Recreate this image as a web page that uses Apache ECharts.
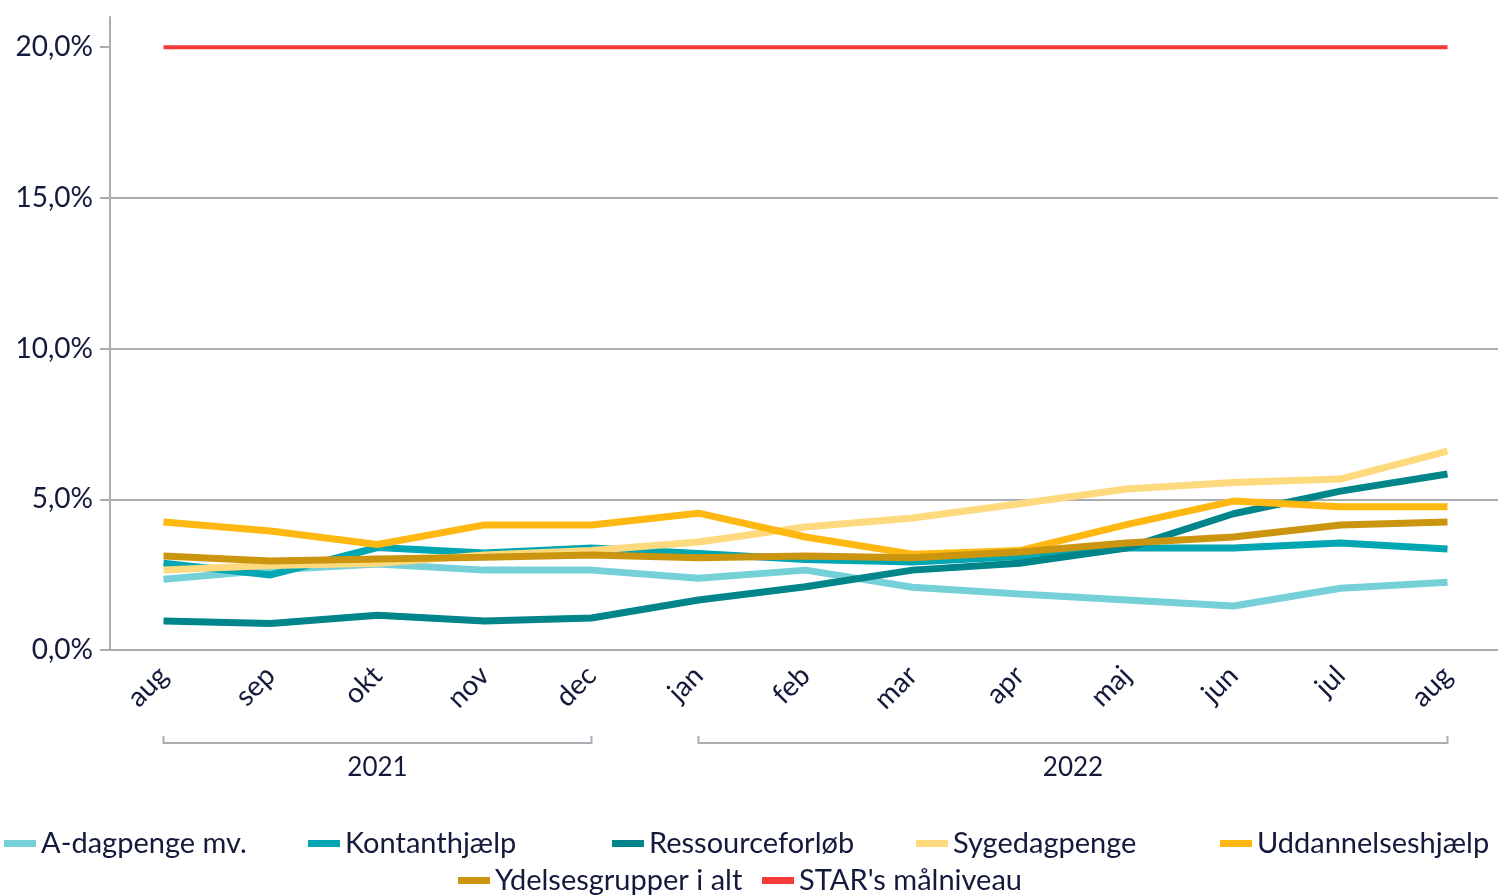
<!DOCTYPE html>
<html>
<head>
<meta charset="utf-8">
<title>Ydelsesgrupper</title>
<script src="https://cdn.jsdelivr.net/npm/echarts@6/dist/echarts.min.js"></script>
<style>
  html, body { margin: 0; padding: 0; background: #fff; }
  #chart { width: 1498px; height: 896px; }
</style>
</head>
<body>
<div id="chart"></div>
<script>
// månedsakse aug 2021 - aug 2022
var months = ["aug", "sep", "okt", "nov", "dec", "jan", "feb", "mar", "apr", "maj", "jun", "jul", "aug"];

var aDagpenge = [2.35, 2.65, 2.85, 2.65, 2.65, 2.38, 2.65, 2.08, 1.86, 1.66, 1.46, 2.05, 2.25];
var kontanthjaelp = [2.88, 2.49, 3.4, 3.22, 3.38, 3.2, 3.0, 2.92, 3.1, 3.38, 3.38, 3.55, 3.35];
var ressourceforloeb = [0.96, 0.88, 1.15, 0.96, 1.06, 1.66, 2.1, 2.65, 2.88, 3.38, 4.52, 5.27, 5.84];
var sygedagpenge = [2.65, 2.8, 2.88, 3.15, 3.3, 3.58, 4.08, 4.38, 4.85, 5.34, 5.56, 5.67, 6.6];
var uddannelseshjaelp = [4.25, 3.95, 3.5, 4.15, 4.15, 4.54, 3.75, 3.18, 3.3, 4.16, 4.94, 4.75, 4.75];
var ydelsesgrupper = [3.12, 2.95, 3.02, 3.08, 3.15, 3.06, 3.12, 3.06, 3.25, 3.55, 3.75, 4.15, 4.25];
var maalniveau = [20, 20, 20, 20, 20, 20, 20, 20, 20, 20, 20, 20, 20];

// årstal under akseetiketterne (indeks i months)
var yearLabels = ["2021", "2022"];
var yearFrom = [0, 5];
var yearTo = [4, 12];

var yTicks = [0, 5, 10, 15, 20];

var seriesNames = ["A-dagpenge mv.", "Kontanthjælp", "Ressourceforløb", "Sygedagpenge",
  "Uddannelseshjælp", "Ydelsesgrupper i alt", "STAR's målniveau"];

var navy = "#141a3b";
var grey = "#aaaeb4";

var chart = echarts.init(document.getElementById("chart"));

function lineSeries(name, data, color, width) {
  return {
    name: name,
    type: "line",
    data: data,
    symbol: "none",
    color: color,
    lineStyle: { color: color, width: width },
    emphasis: { disabled: true }
  };
}

// en legende pr. post, så alle poster får samme bredde (304px)
var legends = seriesNames.map(function (name, i) {
  var row = i < 5 ? 0 : 1;
  var col = i < 5 ? i : i - 5;
  return {
    data: [name],
    left: (row === 0 ? 4 : 458) + col * 304,
    top: row === 0 ? 829 : 866,
    icon: "rect",
    itemWidth: 32,
    itemHeight: 7,
    padding: 0,
    selectedMode: false,
    textStyle: { color: navy, fontFamily: "Lato", fontSize: 29 }
  };
});

var option = {
  animation: false,
  textStyle: { fontFamily: "Lato" },
  grid: {
    left: 110,
    right: -3,
    top: 17,
    bottom: 246,
    outerBoundsMode: "none"
  },
  legend: legends,
  xAxis: {
    type: "category",
    data: months,
    boundaryGap: true,
    axisLine: { lineStyle: { color: grey, width: 2 } },
    axisTick: { alignWithLabel: true, length: 10, lineStyle: { color: grey, width: 2 } },
    axisLabel: {
      rotate: 45,
      interval: 0,
      margin: 21,
      color: navy,
      fontSize: 28,
      fontFamily: "Lato"
    }
  },
  yAxis: {
    type: "value",
    min: 0,
    max: 21,
    interval: 5,
    axisLine: { show: true, lineStyle: { color: grey, width: 2 } },
    axisTick: { show: true, length: 10, customValues: yTicks, lineStyle: { color: grey, width: 2 } },
    axisLabel: {
      customValues: yTicks,
      color: navy,
      fontSize: 28,
      fontFamily: "Lato",
      margin: 17,
      formatter: function (v) {
        return v.toFixed(1).replace(".", ",") + "%";
      }
    },
    splitLine: { show: true, showMaxLine: false, lineStyle: { color: grey, width: 2 } }
  },
  series: [
    lineSeries(seriesNames[0], aDagpenge, "#76d0d7", 7),
    lineSeries(seriesNames[1], kontanthjaelp, "#00a6b1", 7),
    lineSeries(seriesNames[2], ressourceforloeb, "#00858b", 7),
    lineSeries(seriesNames[3], sygedagpenge, "#ffd97e", 7),
    lineSeries(seriesNames[4], uddannelseshjaelp, "#ffb812", 7),
    lineSeries(seriesNames[5], ydelsesgrupper, "#cc950f", 7),
    lineSeries(seriesNames[6], maalniveau, "#f63b3b", 4)
  ]
};

chart.setOption(option);

// klammer med årstal under månederne
function drawYears() {
  var els = [];
  var lineY = 743;
  for (var i = 0; i < yearLabels.length; i++) {
    var x0 = chart.convertToPixel({ xAxisIndex: 0 }, yearFrom[i]);
    var x1 = chart.convertToPixel({ xAxisIndex: 0 }, yearTo[i]);
    els.push({
      type: "polyline",
      shape: { points: [[x0, lineY - 7], [x0, lineY], [x1, lineY], [x1, lineY - 7]] },
      style: { stroke: grey, lineWidth: 2, fill: null },
      silent: true
    });
    els.push({
      type: "text",
      x: (x0 + x1) / 2,
      y: 768,
      style: {
        text: yearLabels[i],
        fill: navy,
        font: "26px Lato",
        align: "center",
        verticalAlign: "middle"
      },
      silent: true
    });
  }
  chart.setOption({ graphic: els });
}
drawYears();
</script>
</body>
</html>
